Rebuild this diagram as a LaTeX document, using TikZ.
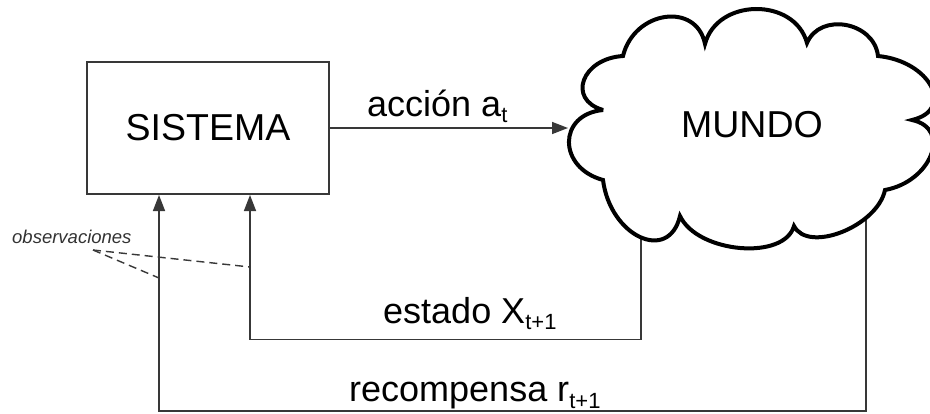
\documentclass[tikz,border=0pt]{standalone}
\usepackage{fontspec}
\setmainfont{Liberation Sans}
\usetikzlibrary{arrows.meta,calc}

% one outward bulge of the cloud outline: from #1 to #2, passing through #3
\newcommand\puff[3]{.. controls ($0.2133*(#1) - 0.5467*(#2) + 1.3333*(#3)$) and ($0.2133*(#2) - 0.5467*(#1) + 1.3333*(#3)$) .. (#2)}
\newcommand\puffclose[3]{.. controls ($0.2133*(#1) - 0.5467*(#2) + 1.3333*(#3)$) and ($0.2133*(#2) - 0.5467*(#1) + 1.3333*(#3)$) .. cycle}
% lowered, smaller index text
\newcommand\lowsub[1]{\raisebox{-6.5pt}{\fontsize{22}{22}\selectfont #1}}

\tikzset{
  conn/.style={draw=black!78, line width=1.5pt},
  arr/.style={conn, -{Triangle[length=16pt,width=12pt]}},
  obsline/.style={draw=black!78, line width=1.4pt, dash pattern=on 8pt off 5pt},
  sysbox/.style={draw=black!78, line width=1.5pt, minimum width=242pt, minimum height=132pt,
                 inner sep=0pt, font=\fontsize{37.5}{40}\selectfont},
  cloudline/.style={draw=black, fill=white, line width=4pt, line join=miter, miter limit=4},
  bigtext/.style={inner sep=0pt, font=\fontsize{37.5}{40}\selectfont},
  lab/.style={inner sep=0pt, anchor=base west, font=\fontsize{36}{40}\selectfont},
  obs/.style={inner sep=0pt, anchor=base west, text=black!80, font=\fontsize{18.5}{20}\selectfont\itshape},
}

\begin{document}
\begin{tikzpicture}[x=1pt, y=-1pt, line join=miter]
\useasboundingbox[fill=white] (0,0) rectangle (930,413);

% the system block
\node[sysbox] (sys) at (208,128) {SISTEMA};

% where the feedback lines enter the block and leave the cloud
\coordinate (in-rec) at (159,195);
\coordinate (in-est) at (250,195);
\coordinate (bot-est) at (0,339.5);
\coordinate (bot-rec) at (0,411);
\coordinate (s1) at (641,232);
\coordinate (s2) at (866,216);
\coordinate (cin) at (568,128);

% feedback: state and reward
\draw[arr] (s1) |- (in-est |- bot-est) -- (in-est);
\draw[arr] (s2) |- (in-rec |- bot-rec) -- (in-rec);

% cloud outline: notches k1..k10, bulge extremes q1..q10
\coordinate (k1) at (623,56);   \coordinate (q1) at (665,17);
\coordinate (k2) at (705,44);   \coordinate (q2) at (756,9);
\coordinate (k3) at (807,43);   \coordinate (q3) at (846,25);
\coordinate (k4) at (878,56);   \coordinate (q4) at (931,86);
\coordinate (k5) at (912,120);  \coordinate (q5) at (931,155);
\coordinate (k6) at (885,190);  \coordinate (q6) at (842,232);
\coordinate (k7) at (794,226);  \coordinate (q7) at (740,248);
\coordinate (k8) at (680,216);  \coordinate (q8) at (640,237);
\coordinate (k9) at (603,180);  \coordinate (q9) at (569,142);
\coordinate (k10) at (603,110); \coordinate (q10) at (584,80);
\draw[cloudline] (k1) \puff{k1}{k2}{q1} \puff{k2}{k3}{q2} \puff{k3}{k4}{q3}
  \puff{k4}{k5}{q4} \puff{k5}{k6}{q5} \puff{k6}{k7}{q6} \puff{k7}{k8}{q7}
  \puff{k8}{k9}{q8} \puff{k9}{k10}{q9} \puffclose{k10}{k1}{q10};
\node[bigtext] (mundo) at (752,125) {MUNDO};

% action
\draw[arr] (sys.east) -- (cin);

% labels
\node[lab] (act) at (367,116) {acción a\lowsub{t}};
\node[lab] (est) at (383,323) {estado X\lowsub{t+1}};
\node[lab] (rec) at (349,401.5) {recompensa r\lowsub{t+1}};

% observations
\node[obs] (obs) at (12,243) {observaciones};
\coordinate (obs-tip) at (93,250);
\coordinate (obs-a) at (250,267);
\coordinate (obs-b) at (159,278);
\draw[obsline] (obs-tip) -- (obs-a);
\draw[obsline] (obs-tip) -- (obs-b);
\end{tikzpicture}
\end{document}
